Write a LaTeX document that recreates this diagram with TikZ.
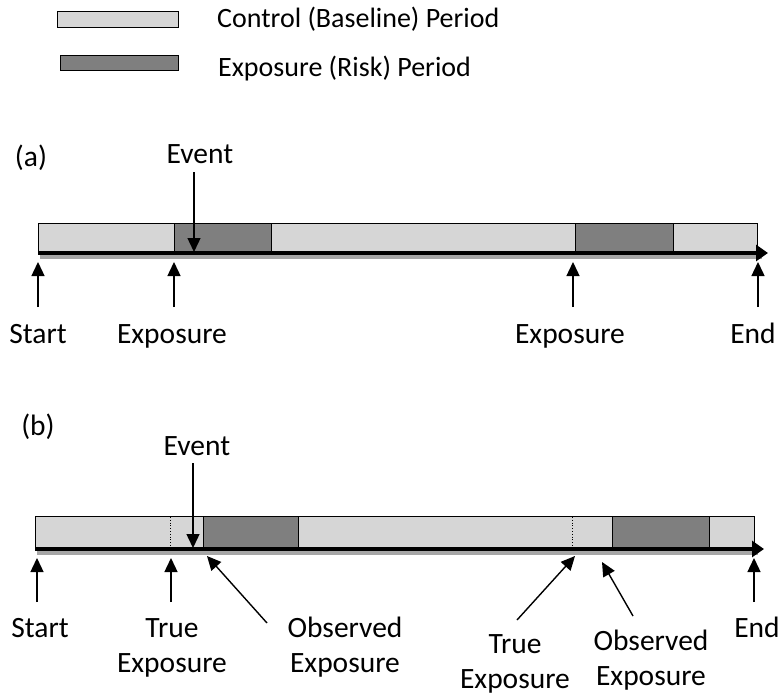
\documentclass[tikz,border=0pt]{standalone}
\usepackage{fontspec}
\setmainfont{Carlito}
\usetikzlibrary{arrows.meta}
\definecolor{lightgrey}{HTML}{D6D6D6}
\definecolor{darkgrey}{HTML}{7F7F7F}
\definecolor{shadowgrey}{HTML}{A6A6A6}
\begin{document}
\begin{tikzpicture}[x=1pt,y=-1pt,
 lbl/.style={font=\fontsize{29.5}{35}\selectfont, inner sep=0pt, align=center, anchor=base},
 leg/.style={font=\fontsize{28}{34}\selectfont, inner sep=0pt, anchor=base west},
 ptr/.style={-{Triangle[length=14pt,width=13pt]}, line width=1.4pt},
 lightbox/.style={draw=black, line width=1pt, fill=lightgrey},
 darkbox/.style={draw=black, line width=1pt, fill=darkgrey},
 axisline/.style={line width=4pt, -{Triangle[length=12pt,width=16pt]}},
 shadowline/.style={line width=4pt, draw=shadowgrey},
 dotline/.style={dotted, line width=0.8pt}]
\useasboundingbox (0,0) rectangle (783,698);

% legend
\draw[lightbox] (57,12) rectangle (178,28);
\draw[darkbox] (60,56) rectangle (178,71);
\node[leg] (lc) at (217,28) {Control (Baseline) Period};
\node[leg] (le) at (218,77) {Exposure (Risk) Period};

% ---------------- (a) ----------------
\node[lbl] (pa) at (31,166) {(a)};
\node[lbl] (eva) at (200,163) {Event};
\draw[lightbox] (38,223) rectangle (757,252);
\draw[darkbox] (174,223) rectangle (271,252);
\draw[darkbox] (575,223) rectangle (673,252);
\draw[shadowline] (40,257) -- (762,257);
\coordinate (a0) at (38,253);
\coordinate (a1) at (768,253);
\draw[axisline] (a0) -- (a1);
\coordinate (ae1) at (194,172);
\coordinate (ae2) at (194,252);
\draw[ptr] (ae1) -- (ae2);

\node[lbl] (sa) at (38,343) {Start};
\node[lbl] (xa1) at (172,343) {Exposure};
\node[lbl] (xa2) at (570,343) {Exposure};
\node[lbl] (ea) at (753,343) {End};
\coordinate (sat) at (38,307);   \coordinate (sah) at (38,262);
\coordinate (xa1t) at (174,307); \coordinate (xa1h) at (174,262);
\coordinate (xa2t) at (573,307); \coordinate (xa2h) at (573,262);
\coordinate (eat) at (758,307);  \coordinate (eah) at (758,262);
\draw[ptr] (sat) -- (sah);
\draw[ptr] (xa1t) -- (xa1h);
\draw[ptr] (xa2t) -- (xa2h);
\draw[ptr] (eat) -- (eah);

% ---------------- (b) ----------------
\node[lbl] (pb) at (38,435) {(b)};
\node[lbl] (evb) at (197,455) {Event};
\draw[lightbox] (35,516) rectangle (754,547);
\draw[darkbox] (203,516) rectangle (298,547);
\draw[darkbox] (612,516) rectangle (709,547);
\draw[dotline] (170,517) -- (170,546);
\draw[dotline] (572,517) -- (572,546);
\draw[shadowline] (37,553) -- (758,553);
\coordinate (b0) at (35,549);
\coordinate (b1) at (764,549);
\draw[axisline] (b0) -- (b1);
\coordinate (be1) at (193,463);
\coordinate (be2) at (193,548);
\draw[ptr] (be1) -- (be2);

\node[lbl] (sb) at (40,637) {Start};
\node[lbl] (tb1) at (172,672) {True\\Exposure};
\node[lbl] (ob1) at (345,672) {Observed\\Exposure};
\node[lbl] (tb2) at (515,688) {True\\Exposure};
\node[lbl] (ob2) at (651,685) {Observed\\Exposure};
\node[lbl] (eb) at (757,637) {End};

\coordinate (sbt) at (37,602);   \coordinate (sbh) at (37,558);
\coordinate (tb1t) at (171,602); \coordinate (tb1h) at (171,558);
\coordinate (ob1t) at (267,623); \coordinate (ob1h) at (207,556);
\coordinate (tb2t) at (517,620); \coordinate (tb2h) at (575,556);
\coordinate (ob2t) at (633,616); \coordinate (ob2h) at (602,562);
\coordinate (ebt) at (754,602);  \coordinate (ebh) at (754,558);
\draw[ptr] (sbt) -- (sbh);
\draw[ptr] (tb1t) -- (tb1h);
\draw[ptr] (ob1t) -- (ob1h);
\draw[ptr] (tb2t) -- (tb2h);
\draw[ptr] (ob2t) -- (ob2h);
\draw[ptr] (ebt) -- (ebh);
\end{tikzpicture}
\end{document}
